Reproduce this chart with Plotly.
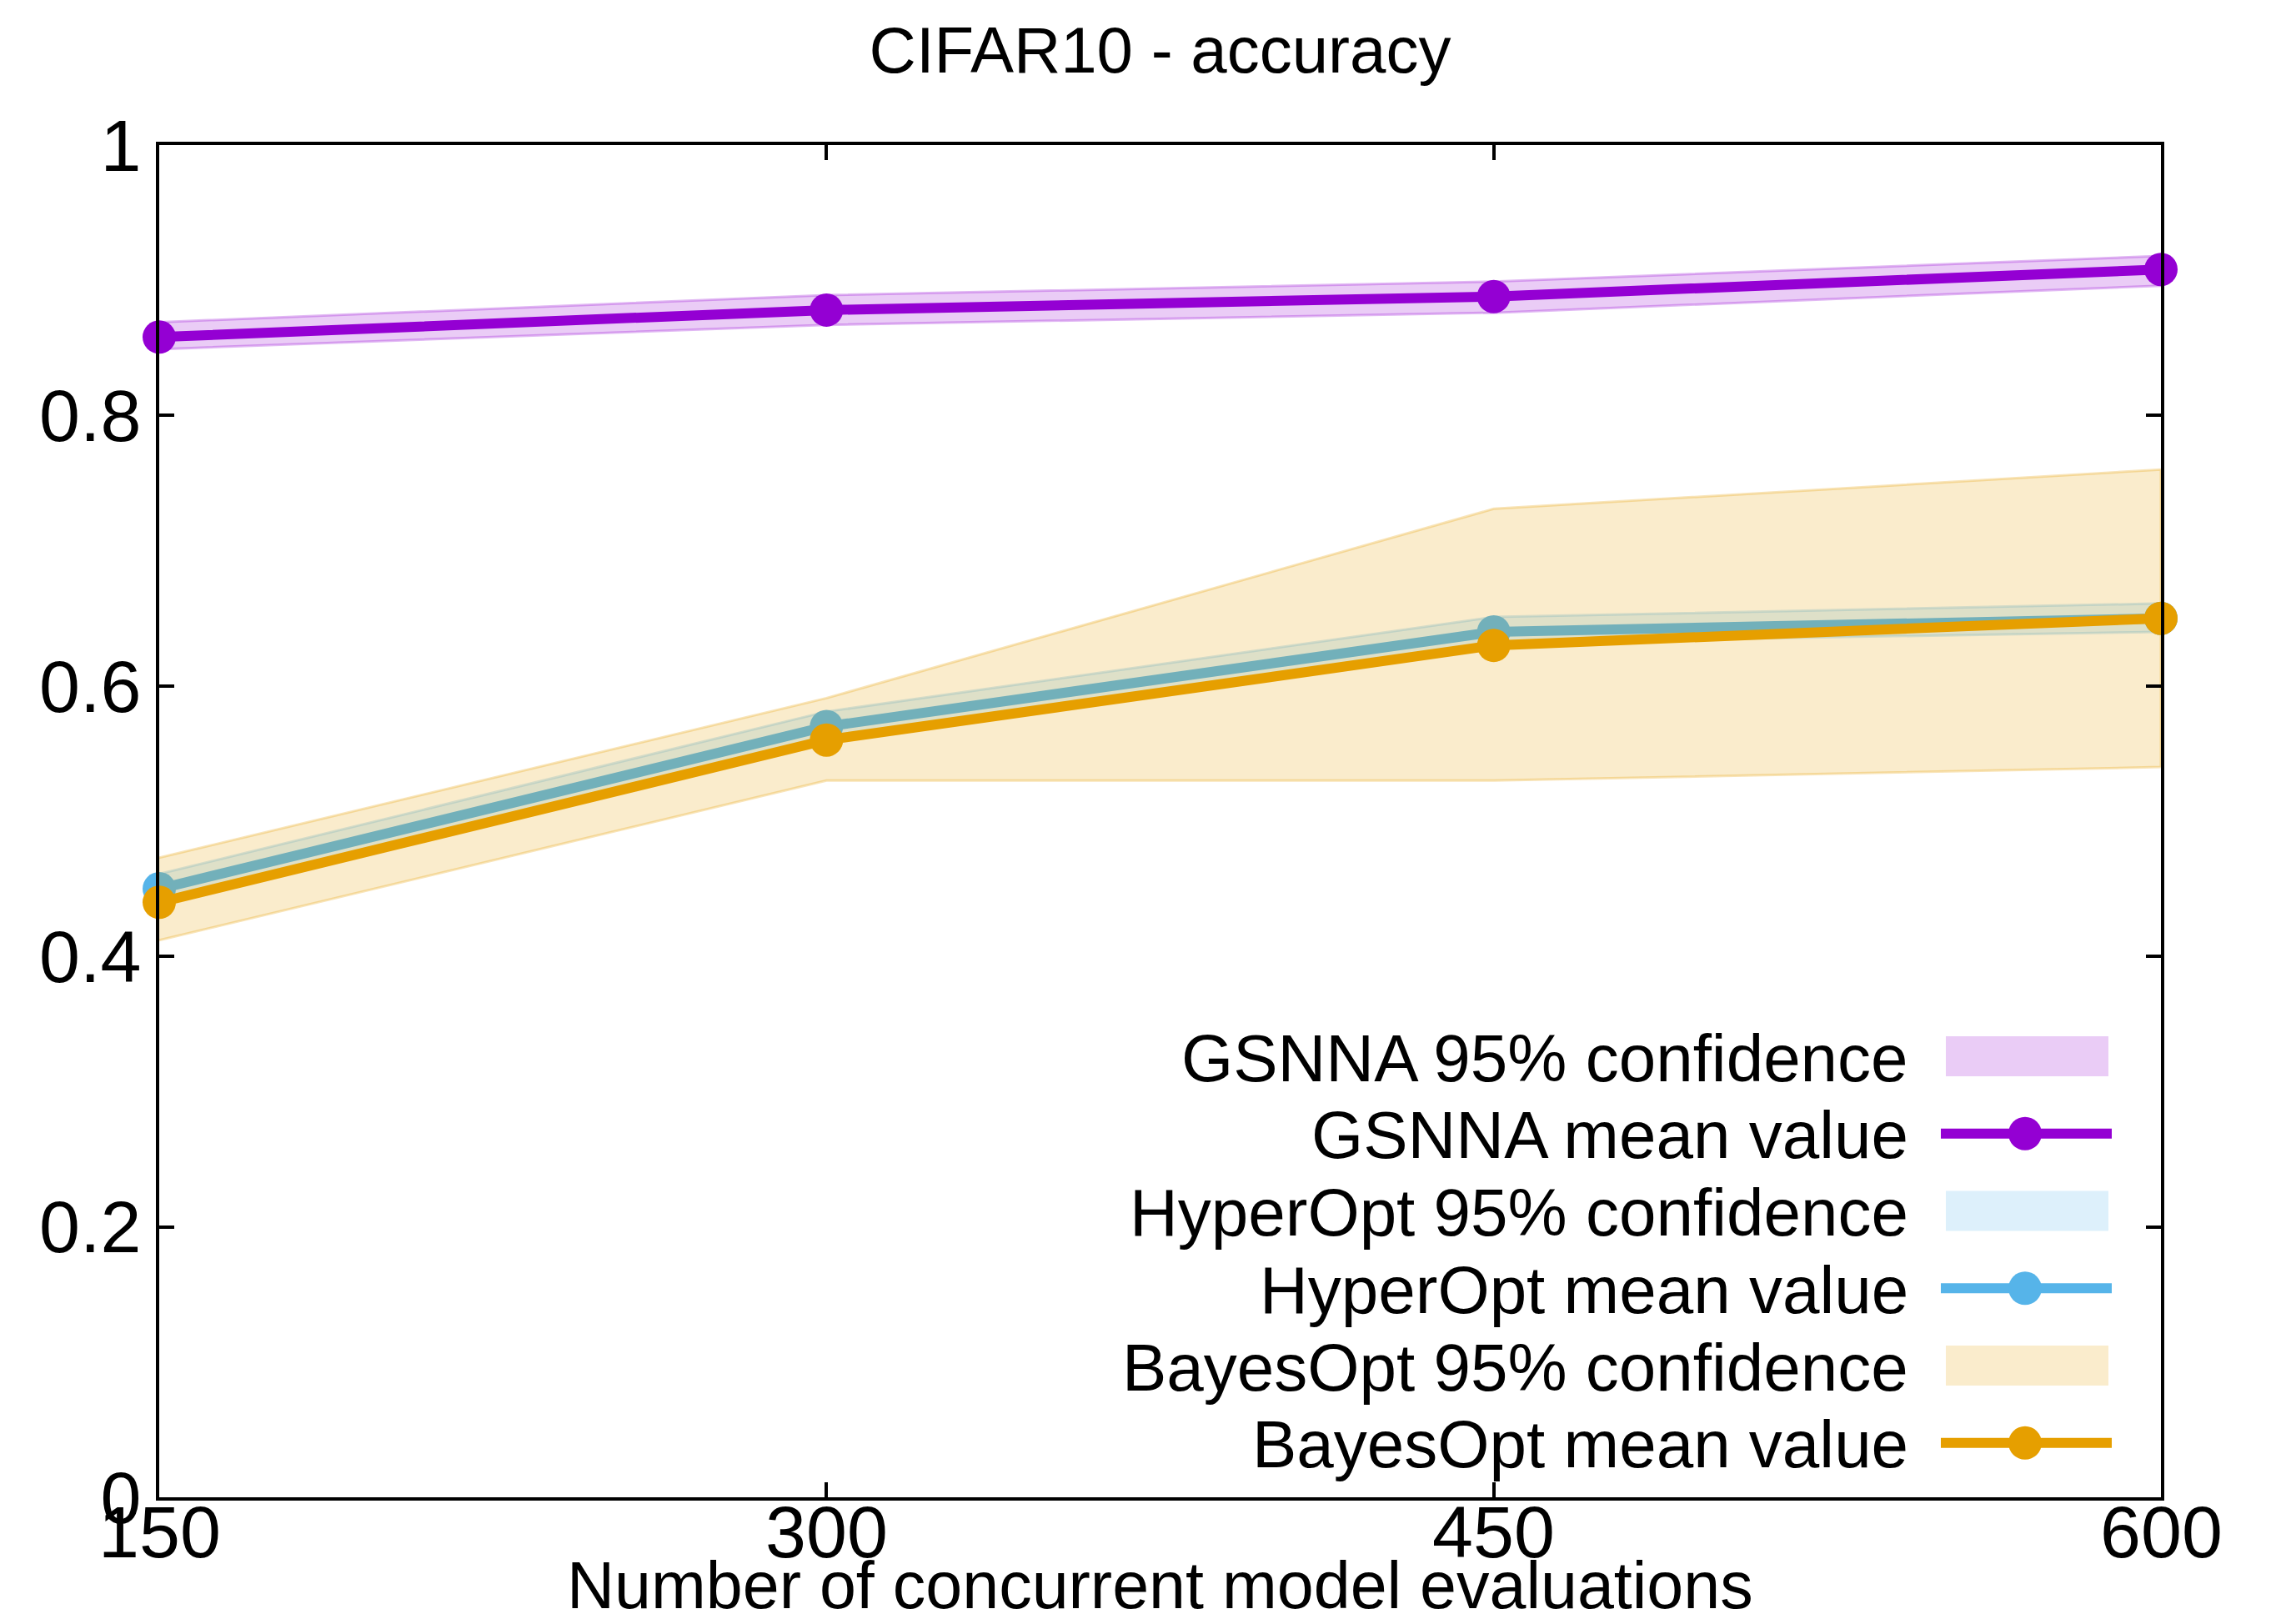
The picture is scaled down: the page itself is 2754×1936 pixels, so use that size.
import plotly.graph_objects as go

# ---- data ----
evaluations = [150, 300, 450, 600]

gsnna_mean = [0.858, 0.878, 0.888, 0.908]
gsnna_low = [0.849, 0.867, 0.876, 0.896]
gsnna_high = [0.869, 0.889, 0.899, 0.918]

hyper_mean = [0.450, 0.570, 0.640, 0.650]
hyper_low = [0.440, 0.560, 0.632, 0.640]
hyper_high = [0.461, 0.581, 0.651, 0.661]

bayes_mean = [0.440, 0.560, 0.630, 0.650]
bayes_low = [0.412, 0.530, 0.530, 0.540]
bayes_high = [0.473, 0.591, 0.731, 0.760]

x_ticks = [150, 300, 450, 600]
x_tick_labels = ["150", "300", "450", "600"]
y_ticks = [0, 0.2, 0.4, 0.6, 0.8, 1]

title_text = "CIFAR10 - accuracy"
x_title = "Number of concurrent model evaluations"
legend_labels = [
    "GSNNA 95% confidence", "GSNNA mean value",
    "HyperOpt 95% confidence", "HyperOpt mean value",
    "BayesOpt 95% confidence", "BayesOpt mean value",
]

# ---- style ----
W, H = 2754, 1936
L, R, T, B = 183, 2584, 166, 1788
FONT = "Liberation Sans"
C_G, C_H, C_B = "#9400D3", "#56B4E9", "#E69F00"


def rgba(hexc, a):
    hexc = hexc.lstrip("#")
    r, g, b = int(hexc[0:2], 16), int(hexc[2:4], 16), int(hexc[4:6], 16)
    return f"rgba({r},{g},{b},{a})"


def px_x(p):
    return (p - L) / (R - L)


def px_y(p):
    return (B - p) / (B - T)


fig = go.Figure()


def add_series(low, high, mean, color):
    fig.add_trace(go.Scatter(
        x=evaluations + evaluations[::-1],
        y=high + low[::-1],
        fill="toself", fillcolor=rgba(color, 0.2),
        line=dict(color=rgba(color, 0.28), width=3),
        mode="lines", hoverinfo="skip", showlegend=False,
    ))
    fig.add_trace(go.Scatter(
        x=evaluations, y=mean, mode="lines+markers",
        line=dict(color=color, width=12),
        marker=dict(color=color, size=40),
        cliponaxis=False, showlegend=False,
    ))


add_series(gsnna_low, gsnna_high, gsnna_mean, C_G)
add_series(hyper_low, hyper_high, hyper_mean, C_H)
add_series(bayes_low, bayes_high, bayes_mean, C_B)

axis_common = dict(
    showline=True, linecolor="black", linewidth=4, mirror="ticks",
    ticks="inside", ticklen=18, tickwidth=4, tickcolor="black",
    showgrid=False, zeroline=False,
    tickfont=dict(family=FONT, size=88, color="black"),
)

fig.update_xaxes(range=[150, 600], tickvals=x_ticks, showticklabels=False,
                 **axis_common)
fig.update_yaxes(range=[0, 1], tickvals=y_ticks, **axis_common)

annotations = []
# x tick labels placed close under the axis, as in the reference
for xv, lab in zip(x_ticks, x_tick_labels):
    annotations.append(dict(
        x=xv, y=px_y(1829), xref="x", yref="paper",
        xanchor="center", yanchor="middle", showarrow=False, text=lab,
        font=dict(family=FONT, size=88, color="black"),
    ))

# ---- legend (drawn manually: text right, key on the right) ----
row0, step = 1259, 92.76
text_right = px_x(2283)
key_x0, key_x1 = px_x(2320), px_x(2525)
rect_x0, rect_x1 = px_x(2326), px_x(2521)
mark_x = px_x(2421)
colors = [C_G, C_G, C_H, C_H, C_B, C_B]
shapes = []
for i, (lab, col) in enumerate(zip(legend_labels, colors)):
    yc = row0 + i * step
    annotations.append(dict(
        x=text_right, y=px_y(yc + 2), xref="paper", yref="paper",
        xanchor="right", yanchor="middle", showarrow=False, text=lab,
        font=dict(family=FONT, size=80, color="black"),
    ))
    if i % 2 == 0:
        shapes.append(dict(
            type="rect", xref="paper", yref="paper",
            x0=rect_x0, x1=rect_x1, y0=px_y(yc + 24), y1=px_y(yc - 24),
            fillcolor=rgba(col, 0.2), line=dict(width=0),
        ))
    else:
        shapes.append(dict(
            type="line", xref="paper", yref="paper",
            x0=key_x0, x1=key_x1, y0=px_y(yc), y1=px_y(yc),
            line=dict(color=col, width=12),
        ))
        shapes.append(dict(
            type="circle", xref="paper", yref="paper",
            xsizemode="pixel", ysizemode="pixel",
            xanchor=mark_x, yanchor=px_y(yc),
            x0=-20, x1=20, y0=-20, y1=20,
            fillcolor=col, line=dict(width=0),
        ))

annotations.append(dict(
    x=0.5, y=px_y(1893), xref="paper", yref="paper",
    xanchor="center", yanchor="middle", showarrow=False, text=x_title,
    font=dict(family=FONT, size=79, color="black"),
))

fig.update_layout(
    width=W, height=H,
    margin=dict(l=L, r=W - R, t=T, b=H - B, autoexpand=False),
    paper_bgcolor="white", plot_bgcolor="white",
    title=dict(text=title_text, x=0.5, xref="paper", xanchor="center",
               y=1 - 52 / H, yanchor="middle",
               font=dict(family=FONT, size=78, color="black")),
    shapes=shapes, annotations=annotations,
    showlegend=False,
)

fig.write_html("out.html")
